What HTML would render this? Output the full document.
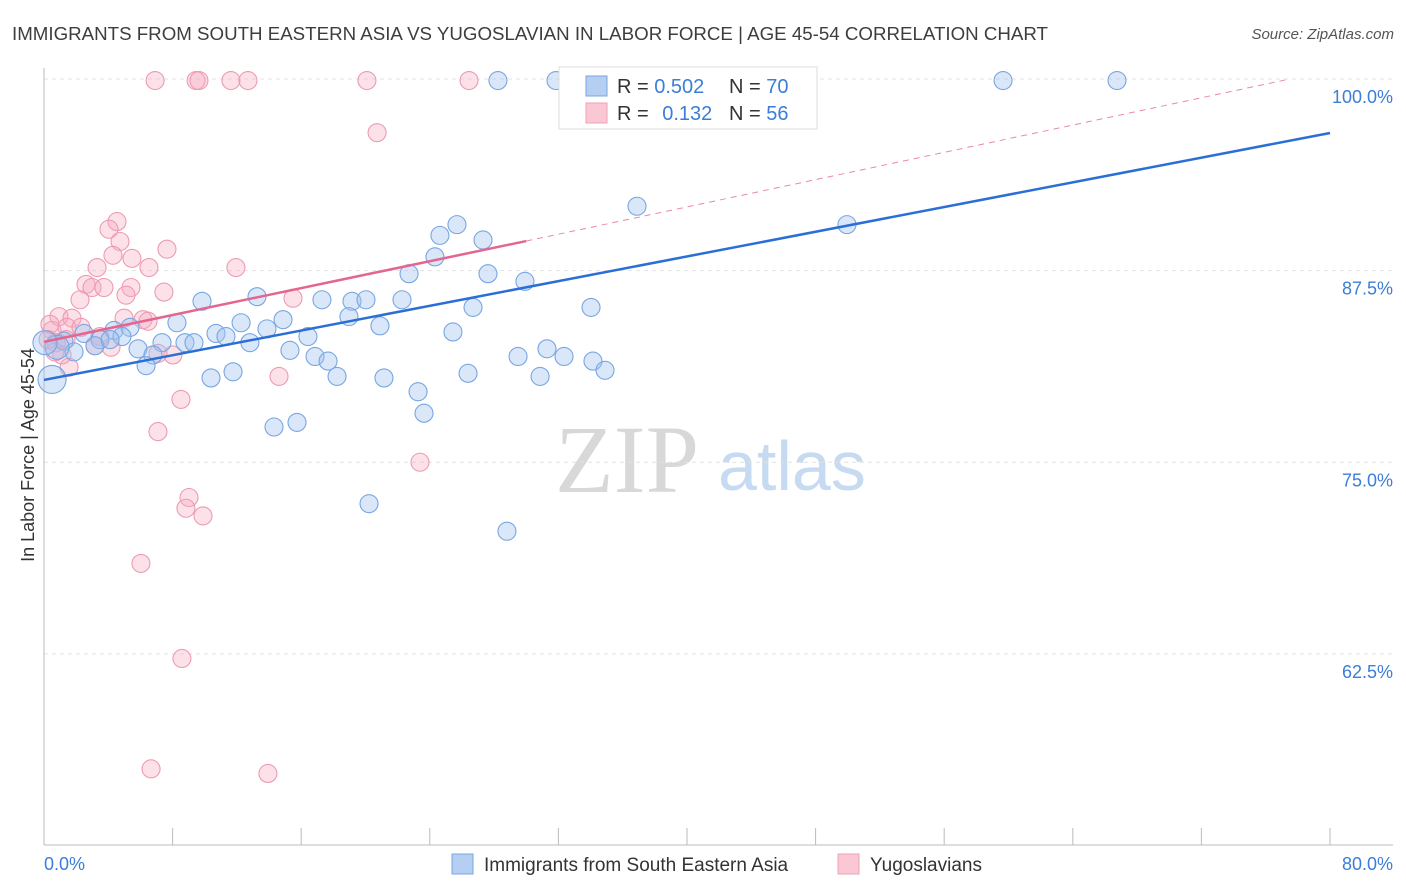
<!DOCTYPE html>
<html><head><meta charset="utf-8"><style>
body{margin:0;background:#fff;font-family:"Liberation Sans",sans-serif;}
#wrap{position:relative;width:1406px;height:892px;overflow:hidden;}
</style></head><body>
<div id="wrap">
<svg id="svg" width="1406" height="892" xmlns="http://www.w3.org/2000/svg" style="position:absolute;left:0;top:0">
<text x="12" y="40" font-size="18" fill="#3d3d3d" textLength="1036" lengthAdjust="spacingAndGlyphs">IMMIGRANTS FROM SOUTH EASTERN ASIA VS YUGOSLAVIAN IN LABOR FORCE | AGE 45-54 CORRELATION CHART</text>
<text x="1394" y="39" font-size="15" fill="#555" text-anchor="end" font-style="italic">Source: ZipAtlas.com</text>
<text x="555" y="492" font-size="96" fill="#d8d8d8" font-family="Liberation Serif, serif">ZIP</text>
<text x="718" y="490" font-size="70" fill="#c6daf2">atlas</text>
<g id="grid"></g>
<g id="marks"></g>
<text transform="translate(34,455) rotate(-90)" font-size="18" fill="#333" text-anchor="middle">In Labor Force | Age 45-54</text>
<text x="44" y="870" font-size="18" fill="#3b7dd8">0.0%</text>
<text x="1393" y="870" font-size="18" fill="#3b7dd8" text-anchor="end">80.0%</text>
<g>
<rect x="559" y="67" width="258" height="62" fill="#fff" stroke="#ddd"/>
<rect x="586" y="76" width="21" height="20" fill="#b5cff2" stroke="#7aa6e2"/>
<rect x="586" y="103" width="21" height="20" fill="#fac7d4" stroke="#eea0b6"/>
<text x="617" y="93" font-size="20" fill="#333">R = <tspan fill="#3b7dd8">0.502</tspan></text>
<text x="729" y="93" font-size="20" fill="#333">N = <tspan fill="#3b7dd8">70</tspan></text>
<text x="617" y="120" font-size="20" fill="#333">R = <tspan fill="#3b7dd8" dx="8">0.132</tspan></text>
<text x="729" y="120" font-size="20" fill="#333">N = <tspan fill="#3b7dd8">56</tspan></text>
</g>
<g>
<rect x="452" y="854" width="21" height="20" fill="#b5cff2" stroke="#7aa6e2"/>
<text x="484" y="871" font-size="19" fill="#333">Immigrants from South Eastern Asia</text>
<rect x="838" y="854" width="21" height="20" fill="#fac7d4" stroke="#eea0b6"/>
<text x="870" y="871" font-size="19" fill="#333">Yugoslavians</text>
</g>
</svg>
</div>
<script>
const yTicks=[100,87.5,75,62.5];
const yTickLabels=["100.0%","87.5%","75.0%","62.5%"];
const xTicks=[0,8,16,24,32,40,48,56,64,72,80];
const blueX=[28.24,31.85,59.66,66.75,36.89,49.95,25.69,24.63,27.31,24.32,22.71,27.62,29.92,9.83,13.25,17.29,19.16,20.03,22.27,26.69,34.03,18.97,14.87,12.26,8.27,20.9,13.87,10.7,11.32,4.35,5.35,2.49,4.85,16.42,25.44,3.48,1.24,7.34,8.77,9.33,12.81,5.85,15.3,1.87,6.78,31.29,29.49,32.35,16.86,17.67,34.15,6.35,34.9,11.76,26.38,10.39,18.23,21.15,30.86,0.5,23.27,23.64,14.31,15.74,20.22,28.8,0.81,0.06,3.17,4.11];
const blueY=[99.9,99.9,99.9,99.9,91.7,90.5,90.5,89.8,89.5,88.4,87.3,87.3,86.8,85.5,85.8,85.6,85.5,85.6,85.6,85.1,85.1,84.5,84.3,84.1,84.1,83.9,83.7,83.4,83.2,83.6,83.8,83.4,83.2,83.2,83.5,83.0,82.9,82.8,82.8,82.8,82.8,82.4,82.3,82.2,82.0,82.4,81.9,81.9,81.9,81.6,81.6,81.3,81.0,80.9,80.8,80.5,80.6,80.5,80.6,80.4,79.6,78.2,77.3,77.6,72.3,70.5,82.5,82.8,82.6,83.0];
const pinkX=[6.91,9.46,9.64,11.63,12.69,20.09,26.44,20.72,4.54,4.04,4.73,7.65,4.29,5.47,3.3,6.53,11.94,2.61,2.99,3.73,5.41,5.1,2.24,7.46,15.49,0.93,1.74,4.98,6.16,6.47,0.5,1.43,2.3,3.48,4.17,3.17,0.25,0.75,1.12,1.56,8.02,7.09,14.62,8.52,7.09,23.39,9.02,8.83,9.89,6.03,8.58,6.66,13.93,0.68,1.37,0.37];
const pinkY=[99.9,99.9,99.9,99.9,99.9,99.9,99.9,96.5,90.7,90.2,89.4,88.9,88.5,88.3,87.7,87.7,87.7,86.6,86.4,86.4,86.4,85.9,85.6,86.1,85.7,84.5,84.4,84.4,84.3,84.2,83.6,83.8,83.8,83.2,82.5,82.6,83.0,82.8,82.0,81.2,82.0,82.1,80.6,79.1,77.0,75.0,72.7,72.0,71.5,68.4,62.2,55.0,54.7,82.2,83.0,84.0];
const blueLine=[[0,80.37],[80,96.48]];
const pinkLine=[[0,82.85],[30,89.43]];
const pinkDash=[[30,89.43],[77.5,100]];
const X=v=>44+v*16.075, Y=v=>79+(100-v)*15.33;
const NS="http://www.w3.org/2000/svg";
function mk(t,a,p){const e=document.createElementNS(NS,t);for(const k in a)e.setAttribute(k,a[k]);p.appendChild(e);return e;}
const grid=document.getElementById('grid'),marks=document.getElementById('marks');
yTicks.forEach((t,i)=>{
 const g=mk('line',{x1:44,x2:1393,y1:Y(t),y2:Y(t),stroke:'#e2e2e2','stroke-dasharray':'4,4'},grid);
 
 
 const l=mk('text',{x:1393,y:Y(t)+24,'font-size':18,fill:'#3b7dd8','text-anchor':'end'},grid);
 l.textContent=yTickLabels[i];
 
 
});
const ax=mk('line',{x1:44,x2:1393,y1:845,y2:845,stroke:'#bbb'},grid);


const ay=mk('line',{x1:44,x2:44,y1:68,y2:845,stroke:'#bbb'},grid);


xTicks.forEach(t=>{
 const e=mk('line',{x1:X(t),x2:X(t),y1:828,y2:845,stroke:'#bbb'},grid);
 
 
});
function pts(xs,ys,fill,stroke,name){
 xs.forEach((x,i)=>{
  const r=(x<1&&ys[i]<81)?14:(x<1&&name==='blue-point'&&ys[i]<83&&ys[i]>82.3)?12:9;
  const c=mk('circle',{cx:X(x),cy:Y(ys[i]),r:r,fill:fill,stroke:stroke,'stroke-width':1.1},marks);
  
  
 });
}
pts(pinkX,pinkY,'rgba(246,170,192,0.35)','#ec9bb2','pink-point');
pts(blueX,blueY,'rgba(160,196,240,0.4)','#78a6e2','blue-point');
function ln(p,stroke,w,dash,name){
 const a={x1:X(p[0][0]),y1:Y(p[0][1]),x2:X(p[1][0]),y2:Y(p[1][1]),stroke:stroke,'stroke-width':w};
 if(dash)a['stroke-dasharray']=dash;
 const e=mk('line',a,marks);
 
 
}
ln(pinkDash,'#e88aa6',1,'6,5','pink-trend-extension');
ln(pinkLine,'#e4668f',2.5,null,'pink-trend-line');
ln(blueLine,'#2a6fd6',2.5,null,'blue-trend-line');
</script>
</body></html>
